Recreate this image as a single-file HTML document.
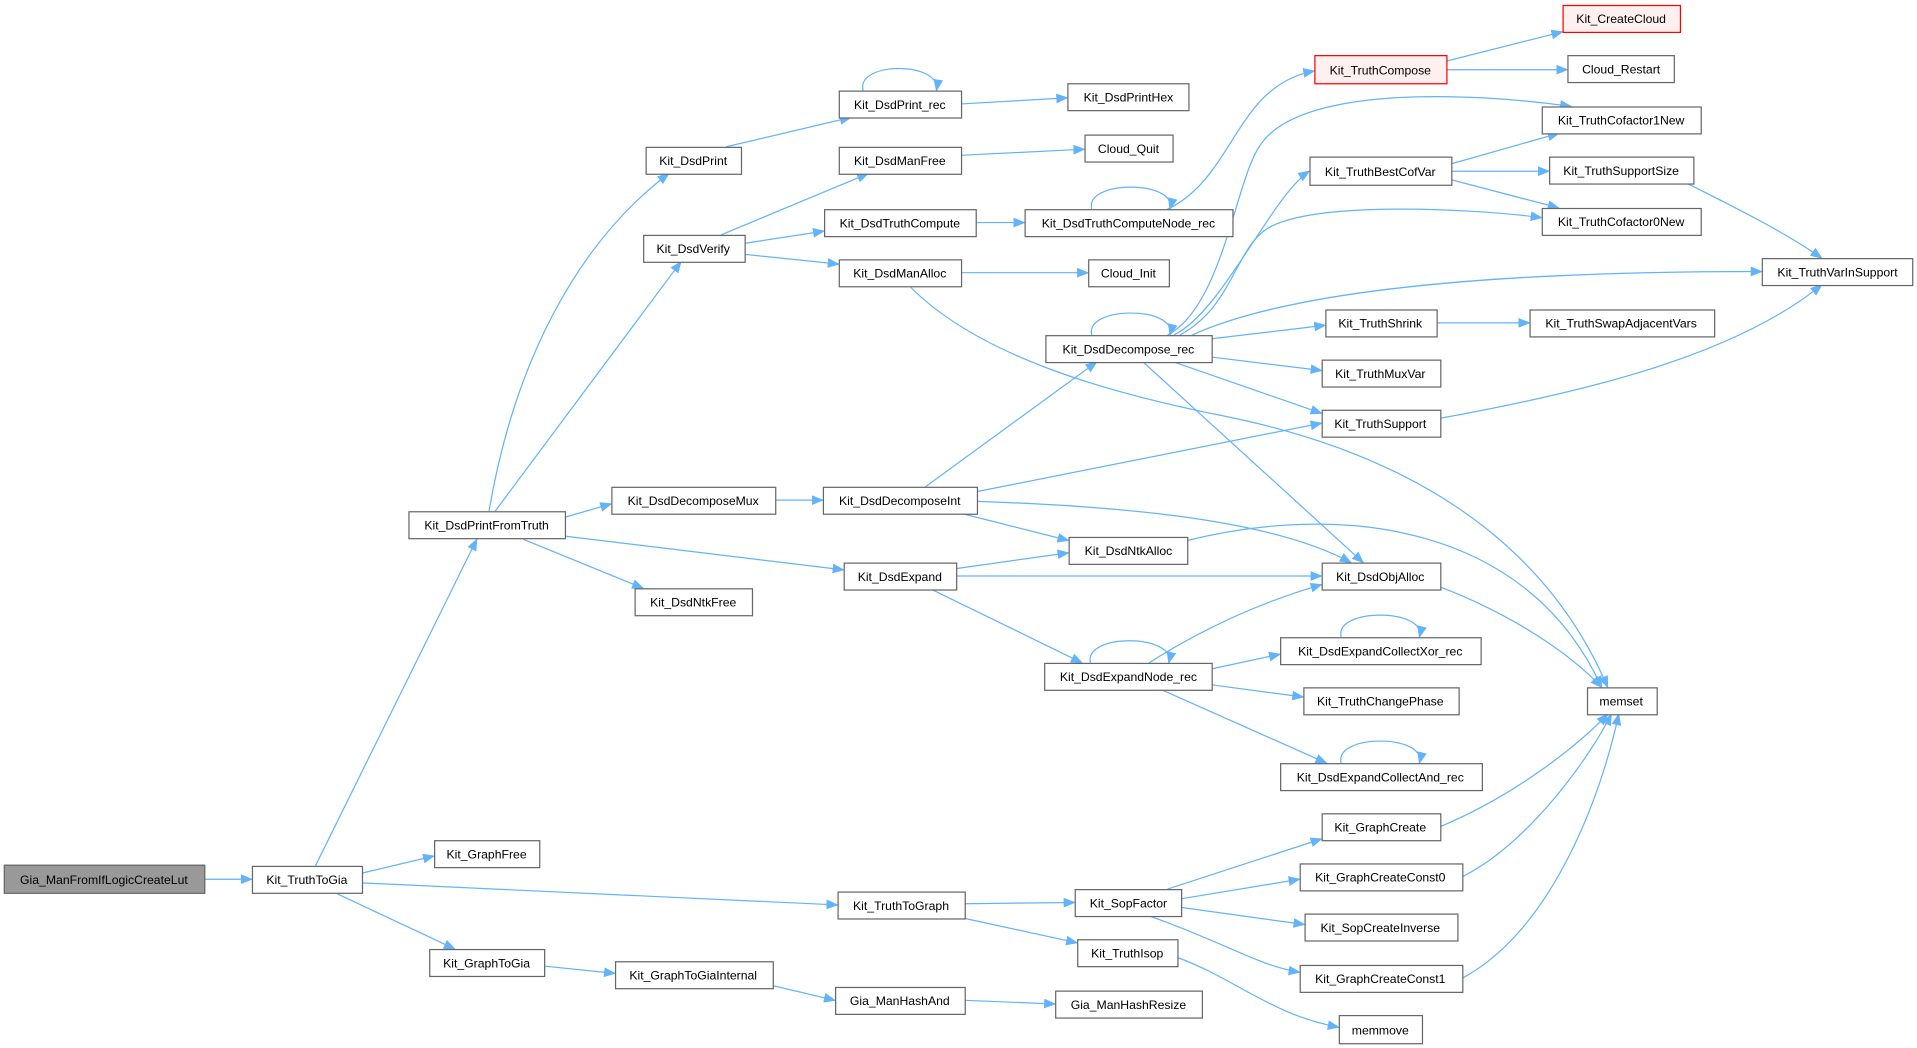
<!DOCTYPE html>
<html><head><meta charset="utf-8"><style>
html,body{margin:0;padding:0;background:#fff;}
svg{display:block;}
text{font-family:"Liberation Sans",Arial,sans-serif;font-size:10px;fill:#000;}
.n{fill:#fff;stroke:#666;stroke-width:1;}
.e{fill:none;stroke:#63b3fa;stroke-width:1;marker-end:url(#a);}
</style></head><body>
<svg width="1917" height="1048" viewBox="0 0 1568 857" preserveAspectRatio="none" xmlns="http://www.w3.org/2000/svg">
<defs><marker id="a" markerUnits="userSpaceOnUse" markerWidth="10" markerHeight="8" refX="9" refY="4" orient="auto"><path d="M0,0 L10,4 L0,8 z" fill="#63b3fa"/></marker></defs>
<g>
<path class="e" d="M167,719 L206,719"/>
<path class="e" d="M258,708 L390,441"/>
<path class="e" d="M296,714 L355,700"/>
<path class="e" d="M296,722 L685,740"/>
<path class="e" d="M276,731 L372,776"/>
<path class="e" d="M400,418 C420,300 470,200 547,142"/>
<path class="e" d="M405,418 L557,214"/>
<path class="e" d="M462,423 L500,412"/>
<path class="e" d="M428,441 L526,481"/>
<path class="e" d="M450,437 L690,466"/>
<path class="e" d="M594,120 L696,96"/>
<path class="e" d="M786,85 L873,80"/>
<path class="e" d="M590,192 L710,142"/>
<path class="e" d="M609,199 L674,189"/>
<path class="e" d="M609,208 L686,216"/>
<path class="e" d="M786,127 L887,122"/>
<path class="e" d="M798,182 L838,182"/>
<path class="e" d="M955,171 C1010,145 1010,70 1075,58"/>
<path class="e" d="M786,223 L890,223"/>
<path class="e" d="M745,235 C800,290 900,320 1000,340 C1200,380 1280,480 1315,562"/>
<path class="e" d="M634,409 L673,409"/>
<path class="e" d="M757,398 L897,296"/>
<path class="e" d="M799,402 L1081,346"/>
<path class="e" d="M787,420 L874,442"/>
<path class="e" d="M799,410 C950,415 1050,430 1105,460"/>
<path class="e" d="M782,465 L874,452"/>
<path class="e" d="M782,471 L1081,471"/>
<path class="e" d="M762,482 L885,542"/>
<path class="e" d="M971,442 C1100,410 1250,430 1310,562"/>
<path class="e" d="M955,274 C1000,250 1010,150 1030,120 C1060,70 1200,75 1285,87"/>
<path class="e" d="M960,274 C1000,255 1040,160 1071,140"/>
<path class="e" d="M965,274 C1010,250 1010,200 1040,185 C1080,165 1200,170 1261,178"/>
<path class="e" d="M975,274 C1050,240 1200,222 1441,222"/>
<path class="e" d="M991,277 L1084,266"/>
<path class="e" d="M991,292 L1081,303"/>
<path class="e" d="M960,296 L1081,338"/>
<path class="e" d="M935,296 L1115,460"/>
<path class="e" d="M1187,134 L1275,109"/>
<path class="e" d="M1187,140 L1267,140"/>
<path class="e" d="M1187,147 L1275,170"/>
<path class="e" d="M1183,50 L1278,26"/>
<path class="e" d="M1183,57 L1282,57"/>
<path class="e" d="M1380,150 C1420,170 1460,190 1490,211"/>
<path class="e" d="M1175,264 L1251,264"/>
<path class="e" d="M1178,342 C1300,320 1420,290 1490,233"/>
<path class="e" d="M1178,480 C1230,500 1280,530 1310,562"/>
<path class="e" d="M940,542 C990,510 1040,490 1081,478"/>
<path class="e" d="M991,547 L1047,535"/>
<path class="e" d="M991,560 L1066,570"/>
<path class="e" d="M950,564 L1085,624"/>
<path class="e" d="M789,739 L879,738"/>
<path class="e" d="M789,751 L881,771"/>
<path class="e" d="M955,727 L1081,686"/>
<path class="e" d="M966,735 L1063,719"/>
<path class="e" d="M966,742 L1067,756"/>
<path class="e" d="M940,749 C1000,770 1030,790 1063,795"/>
<path class="e" d="M963,783 C1010,800 1040,830 1095,840"/>
<path class="e" d="M1178,676 C1240,650 1290,610 1315,584"/>
<path class="e" d="M1196,717 C1250,690 1300,620 1318,584"/>
<path class="e" d="M1196,800 C1270,760 1310,650 1324,584"/>
<path class="e" d="M445,790 L503,796"/>
<path class="e" d="M632,806 L683,818"/>
<path class="e" d="M789,818 L863,821"/>
<path class="e" d="M706,74 C700,50 770,50 766,74"/>
<path class="e" d="M893,171 C887,147 963,147 957,171"/>
<path class="e" d="M893,274 C887,250 963,250 957,274"/>
<path class="e" d="M892,542 C886,518 962,518 956,542"/>
<path class="e" d="M1097,521 C1091,497 1167,497 1161,521"/>
<path class="e" d="M1097,624 C1091,600 1167,600 1161,624"/>
</g>
<g>
<rect x="3.5" y="707.5" width="164" height="23" fill="#999" stroke="#666"/><text x="85" y="723" text-anchor="middle">Gia_ManFromIfLogicCreateLut</text>
<rect class="n" x="206.5" y="708.5" width="90" height="22"/><text x="251" y="723" text-anchor="middle">Kit_TruthToGia</text>
<rect class="n" x="355.5" y="687.5" width="86" height="22"/><text x="398" y="702" text-anchor="middle">Kit_GraphFree</text>
<rect class="n" x="351.5" y="776.5" width="94" height="22"/><text x="398" y="791" text-anchor="middle">Kit_GraphToGia</text>
<rect class="n" x="334.5" y="418.5" width="128" height="22"/><text x="398" y="433" text-anchor="middle">Kit_DsdPrintFromTruth</text>
<rect class="n" x="519.5" y="481.5" width="96" height="22"/><text x="567" y="496" text-anchor="middle">Kit_DsdNtkFree</text>
<rect class="n" x="500.5" y="398.5" width="134" height="22"/><text x="567" y="413" text-anchor="middle">Kit_DsdDecomposeMux</text>
<rect class="n" x="528.5" y="120.5" width="78" height="22"/><text x="567" y="135" text-anchor="middle">Kit_DsdPrint</text>
<rect class="n" x="526.5" y="192.5" width="83" height="22"/><text x="567" y="207" text-anchor="middle">Kit_DsdVerify</text>
<rect class="n" x="686.5" y="74.5" width="100" height="22"/><text x="736" y="89" text-anchor="middle">Kit_DsdPrint_rec</text>
<rect class="n" x="686.5" y="120.5" width="100" height="22"/><text x="736" y="135" text-anchor="middle">Kit_DsdManFree</text>
<rect class="n" x="674.5" y="171.5" width="124" height="22"/><text x="736" y="186" text-anchor="middle">Kit_DsdTruthCompute</text>
<rect class="n" x="686.5" y="212.5" width="100" height="22"/><text x="736" y="227" text-anchor="middle">Kit_DsdManAlloc</text>
<rect class="n" x="673.5" y="398.5" width="126" height="22"/><text x="736" y="413" text-anchor="middle">Kit_DsdDecomposeInt</text>
<rect class="n" x="690.5" y="460.5" width="92" height="22"/><text x="736" y="475" text-anchor="middle">Kit_DsdExpand</text>
<rect class="n" x="685.5" y="729.5" width="104" height="22"/><text x="737" y="744" text-anchor="middle">Kit_TruthToGraph</text>
<rect class="n" x="503.5" y="786.5" width="129" height="22"/><text x="567" y="801" text-anchor="middle">Kit_GraphToGiaInternal</text>
<rect class="n" x="683.5" y="807.5" width="106" height="22"/><text x="736" y="822" text-anchor="middle">Gia_ManHashAnd</text>
<rect class="n" x="873.5" y="68.5" width="99" height="22"/><text x="923" y="83" text-anchor="middle">Kit_DsdPrintHex</text>
<rect class="n" x="887.5" y="110.5" width="72" height="22"/><text x="923" y="125" text-anchor="middle">Cloud_Quit</text>
<rect class="n" x="838.5" y="171.5" width="170" height="22"/><text x="923" y="186" text-anchor="middle">Kit_DsdTruthComputeNode_rec</text>
<rect class="n" x="890.5" y="212.5" width="66" height="22"/><text x="923" y="227" text-anchor="middle">Cloud_Init</text>
<rect class="n" x="855.5" y="274.5" width="136" height="22"/><text x="923" y="289" text-anchor="middle">Kit_DsdDecompose_rec</text>
<rect class="n" x="874.5" y="439.5" width="97" height="22"/><text x="923" y="454" text-anchor="middle">Kit_DsdNtkAlloc</text>
<rect class="n" x="854.5" y="542.5" width="137" height="22"/><text x="923" y="557" text-anchor="middle">Kit_DsdExpandNode_rec</text>
<rect class="n" x="879.5" y="727.5" width="87" height="22"/><text x="923" y="742" text-anchor="middle">Kit_SopFactor</text>
<rect class="n" x="881.5" y="768.5" width="82" height="22"/><text x="922" y="783" text-anchor="middle">Kit_TruthIsop</text>
<rect class="n" x="863.5" y="810.5" width="120" height="22"/><text x="923" y="825" text-anchor="middle">Gia_ManHashResize</text>
<rect x="1075.5" y="45.5" width="108" height="23" fill="#fff0f0" stroke="#f00"/><text x="1129" y="61" text-anchor="middle">Kit_TruthCompose</text>
<rect class="n" x="1071.5" y="128.5" width="116" height="23"/><text x="1129" y="144" text-anchor="middle">Kit_TruthBestCofVar</text>
<rect class="n" x="1084.5" y="253.5" width="91" height="22"/><text x="1129" y="268" text-anchor="middle">Kit_TruthShrink</text>
<rect class="n" x="1081.5" y="294.5" width="97" height="22"/><text x="1129" y="309" text-anchor="middle">Kit_TruthMuxVar</text>
<rect class="n" x="1081.5" y="335.5" width="97" height="22"/><text x="1129" y="350" text-anchor="middle">Kit_TruthSupport</text>
<rect class="n" x="1081.5" y="460.5" width="97" height="22"/><text x="1129" y="475" text-anchor="middle">Kit_DsdObjAlloc</text>
<rect class="n" x="1047.5" y="521.5" width="164" height="22"/><text x="1129" y="536" text-anchor="middle">Kit_DsdExpandCollectXor_rec</text>
<rect class="n" x="1066.5" y="562.5" width="127" height="22"/><text x="1129" y="577" text-anchor="middle">Kit_TruthChangePhase</text>
<rect class="n" x="1047.5" y="624.5" width="165" height="22"/><text x="1129" y="639" text-anchor="middle">Kit_DsdExpandCollectAnd_rec</text>
<rect class="n" x="1081.5" y="665.5" width="97" height="22"/><text x="1129" y="680" text-anchor="middle">Kit_GraphCreate</text>
<rect class="n" x="1063.5" y="706.5" width="133" height="22"/><text x="1129" y="721" text-anchor="middle">Kit_GraphCreateConst0</text>
<rect class="n" x="1067.5" y="747.5" width="125" height="22"/><text x="1129" y="762" text-anchor="middle">Kit_SopCreateInverse</text>
<rect class="n" x="1063.5" y="789.5" width="133" height="22"/><text x="1129" y="804" text-anchor="middle">Kit_GraphCreateConst1</text>
<rect class="n" x="1095.5" y="830.5" width="68" height="23"/><text x="1129" y="846" text-anchor="middle">memmove</text>
<rect x="1278.5" y="4.5" width="96" height="22" fill="#fff0f0" stroke="#f00"/><text x="1326" y="19" text-anchor="middle">Kit_CreateCloud</text>
<rect class="n" x="1282.5" y="45.5" width="87" height="22"/><text x="1326" y="60" text-anchor="middle">Cloud_Restart</text>
<rect class="n" x="1261.5" y="87.5" width="130" height="22"/><text x="1326" y="102" text-anchor="middle">Kit_TruthCofactor1New</text>
<rect class="n" x="1267.5" y="128.5" width="118" height="22"/><text x="1326" y="143" text-anchor="middle">Kit_TruthSupportSize</text>
<rect class="n" x="1261.5" y="170.5" width="130" height="22"/><text x="1326" y="185" text-anchor="middle">Kit_TruthCofactor0New</text>
<rect class="n" x="1251.5" y="253.5" width="151" height="22"/><text x="1326" y="268" text-anchor="middle">Kit_TruthSwapAdjacentVars</text>
<rect class="n" x="1298.5" y="562.5" width="57" height="22"/><text x="1326" y="577" text-anchor="middle">memset</text>
<rect class="n" x="1441.5" y="211.5" width="123" height="22"/><text x="1503" y="226" text-anchor="middle">Kit_TruthVarInSupport</text>
</g>
</svg>
</body></html>
